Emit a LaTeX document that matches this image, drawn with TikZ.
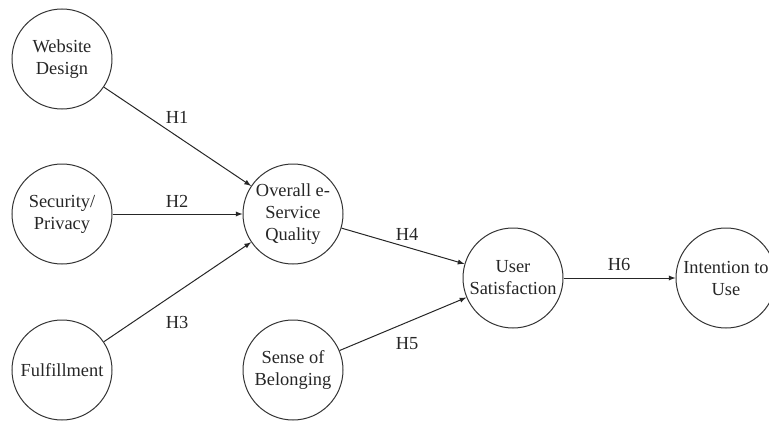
\documentclass[tikz,border=0pt]{standalone}
\usepackage{fontspec}
\setmainfont{Liberation Serif}
\usetikzlibrary{arrows}
\begin{document}
\begin{tikzpicture}[x=0.75pt,y=-0.75pt,line width=0.75pt,
    every node/.style={font=\fontsize{13.8}{16.5}\selectfont,text=black!85},
    var/.style={circle,draw=black!80,minimum size=75pt,inner sep=0pt,align=center}]
            \useasboundingbox (0,0) rectangle (769,421);
            % Les variables
            \node[var] (design) at (62,59) {Website\\Design};
            \node[var] (securite) at (62,214) {Security/\\Privacy};
            \node[var] (fulfil) at (62,370) {Fulfillment};
            \node[var] (qualite) at (293,214) {Overall e-\\Service\\Quality};
            \node[var] (belong) at (293,370) {Sense of\\Belonging};
            \node[var] (satisf) at (513,278) {User\\Satisfaction};
            \node[var] (intention) at (726,278) {Intention to\\Use};
            % Les liens
            \draw[-latex,black!85] (design) -- (qualite);
            \draw[-latex,black!85] (securite) -- (qualite);
            \draw[-latex,black!85] (fulfil) -- (qualite);
            \draw[-latex,black!85] (qualite) -- (satisf);
            \draw[-latex,black!85] (belong) -- (satisf);
            \draw[-latex,black!85] (satisf) -- (intention);
            % Les hypotheses
            \node (h1) at (177,117) {H1};
            \node (h2) at (177,201) {H2};
            \node (h3) at (177,322) {H3};
            \node (h4) at (407,234) {H4};
            \node (h5) at (407,344) {H5};
            \node (h6) at (619,264) {H6};
        \end{tikzpicture}
\end{document}
